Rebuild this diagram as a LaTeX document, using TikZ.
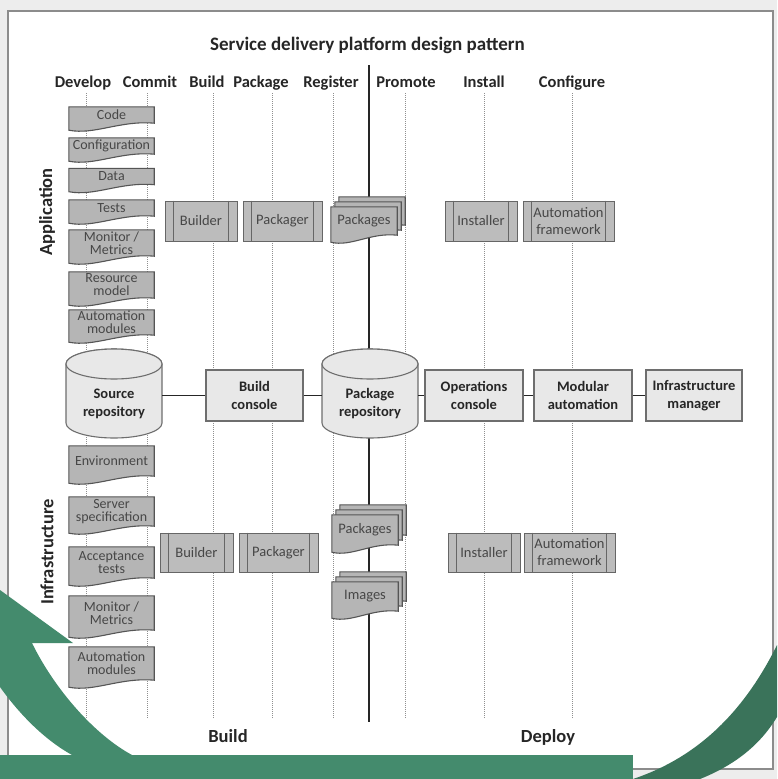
\documentclass[tikz,border=0pt]{standalone}
\usepackage{fontspec}
\setmainfont{Carlito}
\usetikzlibrary{calc}

\definecolor{outergray}{HTML}{EDEDED}
\definecolor{framegray}{HTML}{8C8C8C}
\definecolor{docfill}{HTML}{B5B5B5}
\definecolor{docedge}{HTML}{555555}
\definecolor{procfill}{HTML}{BCBCBC}
\definecolor{procedge}{HTML}{666666}
\definecolor{hubfill}{HTML}{E8E8E8}
\definecolor{hubedge}{HTML}{6E6E6E}
\definecolor{lanegray}{HTML}{8F8F8F}
\definecolor{bodytext}{HTML}{474747}
\definecolor{headtext}{HTML}{262626}
\definecolor{leafgreen}{HTML}{448B6D}
\definecolor{pinegreen}{HTML}{3A735A}

\pgfdeclarelayer{lines}
\pgfdeclarelayer{shapes}
\pgfsetlayers{lines,shapes,main}

% document outline round a node, shifted by (#2,#3)
\newcommand{\docshape}[3]{%
  \draw[docline] ([xshift=#2,yshift=#3]#1.north west) -- ([xshift=#2,yshift=#3]#1.north east)
    -- ([xshift=#2,yshift=#3]#1.south east)
    .. controls ($(#1.south east)!0.4!(#1.south west)+(#2,#3+3pt)$)
    and ($(#1.south west)!0.3!(#1.south east)+(#2,#3-12pt)$)
    .. ([xshift=#2,yshift=#3-7pt]#1.south west) -- cycle;}
% inner bars of a process box
\newcommand{\procbars}[1]{%
  \draw[procline] ([xshift=9pt]#1.north west) -- ([xshift=9pt]#1.south west)
    ([xshift=-9pt]#1.north east) -- ([xshift=-9pt]#1.south east);}
% cylinder round a node
\newcommand{\cylshape}[1]{%
  \draw[cylline] ([xshift=-48pt,yshift=40pt]#1.center) -- ([xshift=-48pt,yshift=-19pt]#1.center)
    arc[start angle=180, end angle=360, x radius=48pt, y radius=15pt]
    -- ([xshift=48pt,yshift=40pt]#1.center)
    arc[start angle=0, end angle=180, x radius=48pt, y radius=15pt] -- cycle;
  \draw[cylline] ([yshift=40pt]#1.center) ellipse[x radius=48pt, y radius=15pt];}

\begin{document}
\begin{tikzpicture}[x=1pt, y=-1pt,
    docbox/.style={minimum width=85, inner sep=0, align=center, text=bodytext, font=\fontsize{14}{13}\selectfont},
    stackbox/.style={docbox, minimum width=66, font=\fontsize{14.5}{14}\selectfont},
    docline/.style={draw=docedge, fill=docfill, line width=1.1pt},
    procbox/.style={draw=procedge, fill=procfill, line width=1pt, minimum height=40, inner sep=0, align=center, text=bodytext, font=\fontsize{14.5}{17}\selectfont},
    procline/.style={draw=procedge, line width=1pt},
    hubbox/.style={draw=hubedge, fill=hubfill, line width=1.1pt, minimum width=97, minimum height=51, align=center, text=headtext, font=\bfseries\fontsize{14.5}{18}\selectfont},
    cylbox/.style={minimum width=96, inner sep=0, align=center, text=headtext, font=\bfseries\fontsize{14.5}{18}\selectfont},
    cylline/.style={draw=hubedge, fill=hubfill, line width=1.1pt},
    stage/.style={anchor=base, text=headtext, font=\bfseries\fontsize{16.5}{18}\selectfont},
    tier/.style={rotate=90, text=headtext, font=\bfseries\fontsize{18.5}{20}\selectfont},
    lane/.style={draw=lanegray, line width=0.9pt, dash pattern=on 1pt off 1pt},
    divider/.style={draw=headtext, line width=1.3pt},
    link/.style={draw=headtext, line width=1.3pt}]
\useasboundingbox (0,0) rectangle (777,779);

\begin{pgfonlayer}{lines}
  \fill[outergray] (0,0) rectangle (777,779);
  \draw[framegray, fill=white, line width=1.5pt] (8,11) rectangle (773,769);
  \foreach \x in {86,147,213,272,333,405,484,572}
    \draw[lane] (\x,93) -- (\x,718);
  \coordinate (divtop) at (369,65);
  \coordinate (divbot) at (369,722);
  \draw[divider] (divtop) -- (divbot);
\end{pgfonlayer}

% headings
\node[anchor=base, text=headtext, font=\bfseries\fontsize{19}{22}\selectfont] (title) at (367.5,50) {Service delivery platform design pattern};
\node[stage] (hdevelop) at (83,87) {Develop};
\node[stage] (hcommit) at (150,87) {Commit};
\node[stage] (hbuild) at (207,87) {Build};
\node[stage] (hpackage) at (261,87) {Package};
\node[stage] (hregister) at (331,87) {Register};
\node[stage] (hpromote) at (406,87) {Promote};
\node[stage] (hinstall) at (484,87) {Install};
\node[stage] (hconfigure) at (572,87) {Configure};
\node[tier] (apptier) at (47,212) {Application};
\node[tier] (infratier) at (47,552) {Infrastructure};
\node[stage, font=\bfseries\fontsize{18.5}{20}\selectfont] (buildphase) at (228,742) {Build};
\node[stage, font=\bfseries\fontsize{18.5}{20}\selectfont] (deployphase) at (548,742) {Deploy};

% application sources
\node[docbox, minimum height=16] (code) at (111.5,115) {Code};
\node[docbox, minimum height=16] (config) at (111.5,146) {Configuration};
\node[docbox, minimum height=16] (data) at (111.5,176.5) {Data};
\node[docbox, minimum height=16] (tests) at (111.5,208) {Tests};
\node[docbox, minimum height=26] (appmon) at (111.5,243) {Monitor /\\Metrics};
\node[docbox, minimum height=26] (resmodel) at (111.5,285) {Resource\\model};
\node[docbox, minimum height=25] (appauto) at (111.5,322.5) {Automation\\modules};

% infrastructure sources
\node[docbox, minimum height=30] (envir) at (111.5,461) {Environment};
\node[docbox, minimum height=29] (serverspec) at (111.5,511.5) {Server\\specification};
\node[docbox, minimum height=31] (acctests) at (111.5,562.5) {Acceptance\\tests};
\node[docbox, minimum height=34] (inframon) at (111.5,613) {Monitor /\\Metrics};
\node[docbox, minimum height=33] (infraauto) at (111.5,663.5) {Automation\\modules};

% artefacts
\node[stackbox, minimum height=28] (pkgapp) at (364,221) {Packages};
\node[stackbox, minimum height=30] (pkginfra) at (365,530) {Packages};
\node[stackbox, minimum height=29] (images) at (365,596.5) {Images};

% tools
\node[procbox, minimum width=72] (appbuild) at (201,221) {Builder};
\node[procbox, minimum width=79] (apppack) at (282.5,221) {Packager};
\node[procbox, minimum width=72] (appinst) at (481,221) {Installer};
\node[procbox, minimum width=91] (appfw) at (568.5,221) {Automation\\framework};
\node[procbox, minimum width=73, minimum height=39] (infrabuild) at (196.5,552.5) {Builder};
\node[procbox, minimum width=79, minimum height=39] (infrapack) at (278.5,552.5) {Packager};
\node[procbox, minimum width=72, minimum height=39] (infrainst) at (484,552.5) {Installer};
\node[procbox, minimum width=91, minimum height=39] (infrafw) at (569.5,552.5) {Automation\\framework};
\procbars{appbuild}
\procbars{apppack}
\procbars{appinst}
\procbars{appfw}
\procbars{infrabuild}
\procbars{infrapack}
\procbars{infrainst}
\procbars{infrafw}

% platform
\node[cylbox] (srcrepo) at (114,404) {Source\\repository};
\node[hubbox] (bcon) at (254.5,395.5) {Build\\console};
\node[cylbox] (pkgrepo) at (370,404) {Package\\repository};
\node[hubbox, minimum width=98] (ops) at (474,395.5) {Operations\\console};
\node[hubbox, minimum width=98] (modauto) at (583,395.5) {Modular\\automation};
\node[hubbox, minimum width=96] (inframgr) at (694,395.5) {Infrastructure\\manager};

\draw[link] (srcrepo.east |- bcon.west) -- (bcon.west);
\draw[link] (bcon.east) -- (bcon.east -| pkgrepo.west);
\draw[link] (pkgrepo.east |- ops.west) -- (ops.west);
\draw[link] (ops) -- (modauto);
\draw[link] (modauto) -- (inframgr);

\begin{pgfonlayer}{shapes}
  \docshape{code}{0pt}{0pt}
  \docshape{config}{0pt}{0pt}
  \docshape{data}{0pt}{0pt}
  \docshape{tests}{0pt}{0pt}
  \docshape{appmon}{0pt}{0pt}
  \docshape{resmodel}{0pt}{0pt}
  \docshape{appauto}{0pt}{0pt}
  \docshape{envir}{0pt}{0pt}
  \docshape{serverspec}{0pt}{0pt}
  \docshape{acctests}{0pt}{0pt}
  \docshape{inframon}{0pt}{0pt}
  \docshape{infraauto}{0pt}{0pt}
  \docshape{pkgapp}{8pt}{10pt}
  \docshape{pkgapp}{4pt}{5pt}
  \docshape{pkgapp}{0pt}{0pt}
  \docshape{pkginfra}{8pt}{10pt}
  \docshape{pkginfra}{4pt}{5pt}
  \docshape{pkginfra}{0pt}{0pt}
  \docshape{images}{8pt}{10pt}
  \docshape{images}{4pt}{5pt}
  \docshape{images}{0pt}{0pt}
  \cylshape{srcrepo}
  \cylshape{pkgrepo}
\end{pgfonlayer}

% green overlay
\fill[leafgreen] (0,755) rectangle (633,779);
\fill[leafgreen] (0,590) -- (73,643) -- (32,643)
  .. controls (55,690) and (95,735) .. (132,755) -- (72,755)
  .. controls (45,740) and (20,715) .. (0,687) -- cycle;
\fill[pinegreen] (777,645) .. controls (740,720) and (690,760) .. (633,779)
  -- (700,779) .. controls (735,765) and (760,745) .. (777,717) -- cycle;
\end{tikzpicture}
\end{document}
